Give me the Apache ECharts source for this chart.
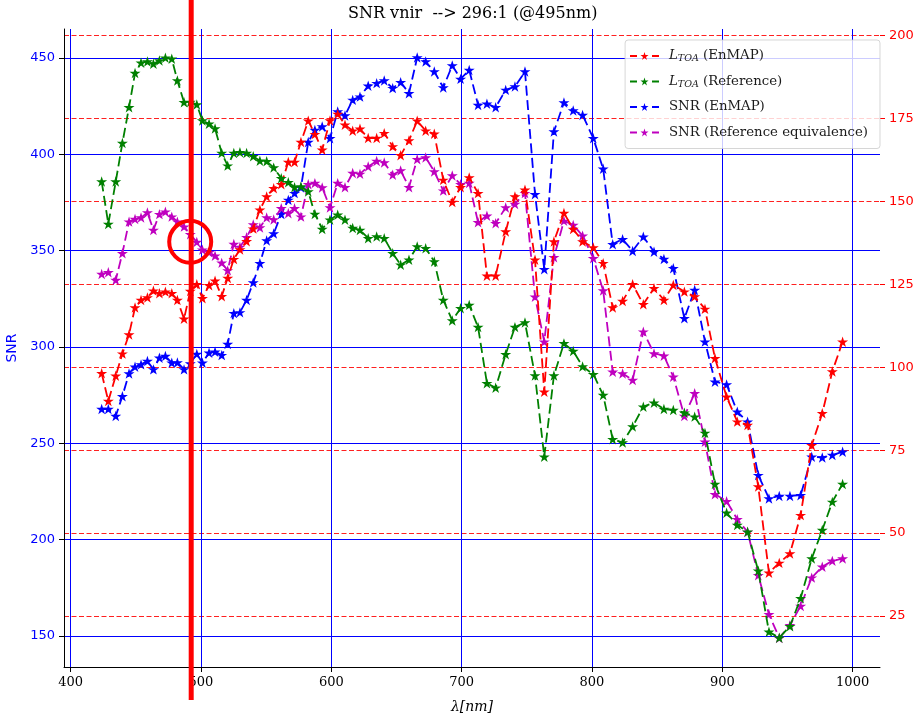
<!DOCTYPE html>
<html><head><meta charset="utf-8">
<script src="https://cdn.jsdelivr.net/npm/echarts@6/dist/echarts.min.js"></script>
<style>html,body{margin:0;padding:0;background:#fff}#c{width:914px;height:719px}</style>
</head><body><div id="c"></div>
<script>
// ---- data ----
const wavelengths = [
  423.8, 428.9, 434.6, 439.7, 444.8, 449.4, 454.0, 458.9, 463.5, 468.1,
  472.7, 477.6, 481.9, 487.0, 491.8, 496.8, 501.1, 506.2, 510.8, 515.9,
  520.5, 525.2, 529.9, 535.0, 540.1, 545.2, 550.4, 555.8, 561.6, 567.0,
  571.8, 576.7, 582.3, 587.4, 593.0, 599.0, 604.9, 610.5, 616.4, 622.0,
  628.3, 634.8, 640.6, 647.1, 653.2, 659.6, 665.9, 672.4, 679.0, 685.9,
  692.8, 699.2, 705.8, 712.6, 719.4, 726.1, 733.8, 740.9, 748.6, 756.3,
  763.4, 770.8, 778.5, 785.6, 792.8, 801.0, 808.6, 815.9, 823.5, 831.2,
  839.4, 847.6, 855.2, 862.4, 870.9, 878.8, 886.7, 894.4, 903.3, 911.5,
  919.4, 927.6, 935.8, 943.7, 951.9, 960.1, 968.6, 976.7, 984.4, 992.3
];
// L_TOA (right axis)
const lToaEnmap = [
  98.2, 89.8, 97.4, 104.1, 109.9, 118.0, 120.3, 121.0, 123.1, 122.3,
  122.8, 122.3, 120.3, 114.6, 123.0, 125.0, 120.8, 124.7, 126.1, 121.4,
  126.9, 132.6, 135.5, 138.0, 141.8, 147.5, 151.5, 154.0, 155.2, 161.9,
  161.9, 167.9, 174.3, 170.3, 165.6, 174.4, 176.4, 173.1, 171.3, 171.9,
  169.1, 169.1, 170.6, 166.6, 163.9, 168.4, 174.3, 171.3, 170.4, 156.5,
  149.8, 154.3, 157.2, 152.5, 127.6, 127.6, 140.9, 151.5, 153.5, 132.4,
  92.6, 137.9, 146.5, 141.7, 137.9, 136.1, 131.4, 118.0, 120.0, 125.0,
  119.0, 123.8, 120.3, 124.8, 122.8, 121.3, 117.6, 102.7, 91.1, 83.6,
  82.6, 64.0, 38.0, 41.0, 43.8, 55.4, 76.5, 86.1, 98.7, 107.7
];
const lToaRef = [
  156.0, 143.2, 156.0, 167.6, 178.4, 188.7, 191.8, 192.2, 191.5, 192.5,
  193.3, 193.0, 186.5, 179.9, 180.0, 179.2, 174.4, 173.4, 172.0, 164.6,
  160.8, 164.6, 164.8, 164.6, 163.6, 162.3, 162.1, 160.2, 157.0, 155.8,
  154.3, 154.5, 153.0, 146.2, 141.7, 144.5, 146.0, 144.5, 142.0, 141.4,
  138.9, 139.4, 138.9, 134.4, 130.9, 132.4, 136.4, 135.9, 131.9, 120.3,
  114.1, 117.8, 118.8, 112.1, 95.2, 93.8, 103.9, 112.1, 113.5, 97.5,
  73.0, 97.5, 107.2, 104.9, 100.2, 97.9, 91.6, 78.3, 77.3, 82.1,
  88.1, 89.3, 87.4, 87.1, 86.3, 85.1, 80.2, 64.8, 56.1, 52.4,
  50.4, 38.6, 20.2, 18.4, 21.9, 30.3, 42.3, 50.9, 59.4, 64.8
];
// SNR (left axis)
const snrEnmap = [
  267.8, 267.8, 264.2, 274.5, 286.3, 289.8, 291.0, 292.7, 288.4, 294.4,
  295.3, 291.8, 292.0, 288.4, 291.5, 296.4, 291.8, 297.0, 297.6, 295.8,
  301.6, 317.6, 318.0, 324.4, 333.5, 343.5, 355.3, 358.9, 369.0, 376.4,
  379.9, 382.8, 406.4, 412.7, 414.5, 408.4, 422.3, 420.2, 428.3, 430.0,
  435.6, 437.0, 438.4, 434.4, 437.5, 431.8, 450.3, 448.2, 443.0, 434.7,
  446.2, 439.2, 443.8, 425.7, 426.3, 424.5, 433.5, 435.2, 443.0, 379.3,
  340.4, 411.9, 426.9, 422.8, 420.5, 408.4, 392.5, 353.4, 356.0, 349.9,
  357.3, 349.5, 345.7, 340.9, 314.9, 329.6, 302.8, 282.0, 280.6, 266.4,
  261.2, 233.5, 221.4, 222.7, 222.7, 223.1, 243.0, 242.7, 243.9, 245.6
];
const snrRef = [
  337.9, 338.8, 334.8, 348.7, 365.1, 366.5, 367.2, 369.8, 360.8, 369.0,
  370.3, 367.7, 365.1, 362.5, 358.5, 354.5, 350.5, 349.2, 347.4, 343.7,
  339.8, 353.5, 352.0, 357.0, 363.6, 362.0, 367.2, 366.2, 372.1, 369.5,
  372.1, 367.7, 384.5, 385.1, 382.8, 372.4, 385.1, 383.0, 390.3, 389.9,
  393.7, 396.6, 395.8, 389.4, 391.6, 383.0, 397.5, 398.4, 391.1, 381.2,
  389.0, 384.5, 385.1, 364.8, 368.2, 364.3, 372.4, 374.3, 379.9, 326.1,
  302.8, 346.6, 365.5, 363.4, 357.8, 346.1, 329.3, 287.2, 286.3, 282.9,
  308.0, 296.7, 295.5, 284.6, 264.2, 276.0, 250.8, 223.6, 220.0, 210.6,
  204.0, 181.5, 161.3, 149.0, 155.6, 165.6, 180.3, 185.9, 189.0, 190.2
];
const xTicks = [400, 500, 600, 700, 800, 900, 1000];
const snrTicks = [150, 200, 250, 300, 350, 400, 450];
const lToaTicks = [25, 50, 75, 100, 125, 150, 175, 200];
const markedWavelength = 492.5;   // highlighted band (vertical bar)
const markedSnr = 354.6;          // centre of the highlight circle (SNR units)
const titleText = 'SNR vnir  --> 296:1 (@495nm)';

// ---- chart ----
const STAR = 'path://M1,0 L1.2245,0.691 L1.9511,0.691 L1.3633,1.118 L1.5878,1.809 L1,1.382 L0.4122,1.809 L0.6367,1.118 L0.0489,0.691 L0.7755,0.691 Z';
function pairs(ys) { return wavelengths.map((x, i) => [x, ys[i]]); }
function mk(name, ys, color, yIdx, z) {
  return {
    name, type: 'line', data: pairs(ys), yAxisIndex: yIdx,
    symbol: STAR, symbolSize: 11, symbolKeepAspect: true, showSymbol: true,
    lineStyle: { color, width: 1.8, type: [10, 4.5] },
    itemStyle: { color, borderWidth: 0 },
    emphasis: { disabled: true }, z, animation: false, clip: false
  };
}
const NAMES = ['L_TOA (EnMAP)', 'L_TOA (Reference)', 'SNR (EnMAP)', 'SNR (Reference equivalence)'];
const LEG = {
  'L_TOA (EnMAP)': '{i|L}{s|TOA} (EnMAP)',
  'L_TOA (Reference)': '{i|L}{s|TOA} (Reference)',
  'SNR (EnMAP)': 'SNR (EnMAP)',
  'SNR (Reference equivalence)': 'SNR (Reference equivalence)'
};
const plain = v => String(v);

const chart = echarts.init(document.getElementById('c'), null, { renderer: 'canvas' });
chart.setOption({
  animation: false,
  backgroundColor: '#ffffff',
  title: {
    text: titleText, left: 348, top: 6, padding: 0,
    textStyle: { fontFamily: 'DejaVu Serif', fontSize: 16, fontWeight: 'normal', color: '#000' }
  },
  grid: { left: 64, top: 29, width: 816, height: 638, containLabel: false, outerBoundsMode: 'none' },
  legend: {
    data: NAMES, orient: 'vertical', right: 34, top: 40,
    itemWidth: 29, itemHeight: 10, itemGap: 9.5,
    padding: [8, 12, 8, 4],
    backgroundColor: 'rgba(255,255,255,0.8)', borderColor: 'rgba(204,204,204,0.8)', borderWidth: 1, borderRadius: 3,
    lineStyle: { type: [7, 15], width: 1.8 },
    formatter: n => LEG[n],
    textStyle: {
      fontFamily: 'DejaVu Serif', fontSize: 13.3, color: '#1a1a1a', lineHeight: 16, padding: [0, 0, 0, 5],
      rich: {
        i: { fontFamily: 'DejaVu Serif', fontStyle: 'italic', fontSize: 13.3, color: '#1a1a1a', lineHeight: 16 },
        s: { fontFamily: 'DejaVu Serif', fontStyle: 'italic', fontSize: 9.5, color: '#1a1a1a', lineHeight: 10, verticalAlign: 'bottom', padding: [6, 0, 0, 0] }
      }
    }
  },
  xAxis: {
    type: 'value', min: 394.9, max: 1021,
    axisLine: { show: true, onZero: false, lineStyle: { color: '#000', width: 1 } },
    axisTick: { show: true, customValues: xTicks, length: 5, lineStyle: { color: '#000' } },
    axisLabel: { customValues: xTicks, formatter: plain, color: '#000', fontFamily: 'DejaVu Serif', fontSize: 13, margin: 9 },
    splitLine: { show: true, lineStyle: { color: '#0000ff', width: 1 } },
    name: 'λ[nm]', nameLocation: 'middle', nameGap: 33,
    nameTextStyle: { fontStyle: 'italic', fontFamily: 'DejaVu Serif', fontSize: 14, color: '#000' }
  },
  yAxis: [
    {
      type: 'value', position: 'left', min: 133.9, max: 465.1,
      axisLine: { show: true, onZero: false, lineStyle: { color: '#000', width: 1 } },
      axisTick: { show: true, customValues: snrTicks, length: 5, lineStyle: { color: '#000' } },
      axisLabel: { customValues: snrTicks, formatter: plain, color: '#0000ff', fontFamily: 'DejaVu Sans', fontSize: 13, margin: 9 },
      splitLine: { show: true, lineStyle: { color: '#0000ff', width: 1 } },
      name: 'SNR', nameLocation: 'middle', nameGap: 40, nameRotate: 90,
      nameTextStyle: { color: '#0000ff', fontFamily: 'DejaVu Sans', fontSize: 14 }
    },
    {
      type: 'value', position: 'right', min: 9.6, max: 202.0,
      axisLine: { show: false },
      axisTick: { show: true, customValues: lToaTicks, length: 5, lineStyle: { color: '#ff0000' } },
      axisLabel: { customValues: lToaTicks, formatter: plain, color: '#ff0000', fontFamily: 'DejaVu Sans', fontSize: 13, margin: 9 },
      splitLine: { show: true, lineStyle: { color: '#ff2020', width: 1, type: [5, 2.5] } }
    }
  ],
  series: [
    mk('SNR (EnMAP)', snrEnmap, '#0000ff', 0, 2),
    mk('SNR (Reference equivalence)', snrRef, '#bf00bf', 0, 3),
    mk('L_TOA (EnMAP)', lToaEnmap, '#ff0000', 1, 4),
    mk('L_TOA (Reference)', lToaRef, '#008000', 1, 5)
  ]
});

// highlight bar and circle placed through the axes' own scales
const p = chart.convertToPixel({ xAxisIndex: 0, yAxisIndex: 0 }, [markedWavelength, markedSnr]);
chart.setOption({
  graphic: [
    { type: 'rect', z: 100, shape: { x: p[0] - 2.5, y: 0, width: 5, height: 700 }, style: { fill: '#ff0000' } },
    { type: 'circle', z: 101, shape: { cx: p[0] - 1, cy: p[1], r: 21 }, style: { fill: 'none', stroke: '#ff0000', lineWidth: 4 } }
  ]
});
</script>
</body></html>
